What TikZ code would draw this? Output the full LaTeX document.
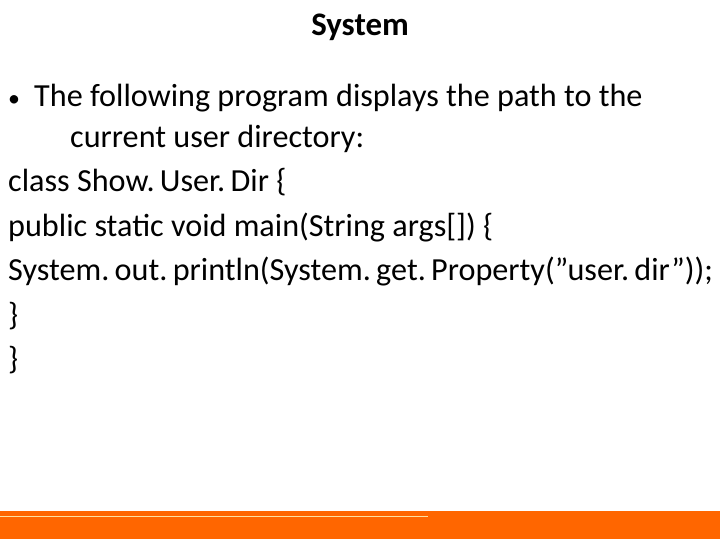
\documentclass[tikz,border=0pt]{standalone}
\usepackage{fontspec}
\setmainfont{Carlito}
\definecolor{bar}{HTML}{FF6600}
\definecolor{paleline}{HTML}{FFE0A0}
\begin{document}
\begin{tikzpicture}[x=1bp,y=-1bp,
 line/.style={anchor=base west,inner sep=0pt,font=\fontsize{32.3}{36}\selectfont}]
\useasboundingbox (0,0) rectangle (720,540);
\fill[bar] (0,511) rectangle (720,539);
\draw[draw=paleline,line width=1.2bp] (0,516.5) -- (428,516.5);
\node[anchor=base,inner sep=0pt,font=\fontsize{33}{36}\selectfont\bfseries] (t) at (360,36) {System};
\node[anchor=base west,inner sep=0pt,font=\fontsize{24}{26}\selectfont] (b) at (8,107) {•};
\node[line] (l1) at (34,107) {The following program displays the path to the};
\node[line] (l2) at (70,148) {current user directory:};
\node[line] (l3) at (8,192) {class Show.\,User.\,Dir \{};
\node[line] (l4) at (8,237) {public static void main(String args[]) \{};
\node[line] (l5) at (8,281) {System.\,out.\,println(System.\,get.\,Property(\char34 user.\,dir\char34));};
\node[line] (l6) at (8,325) {\}};
\node[line] (l7) at (8,369) {\}};
\end{tikzpicture}
\end{document}
